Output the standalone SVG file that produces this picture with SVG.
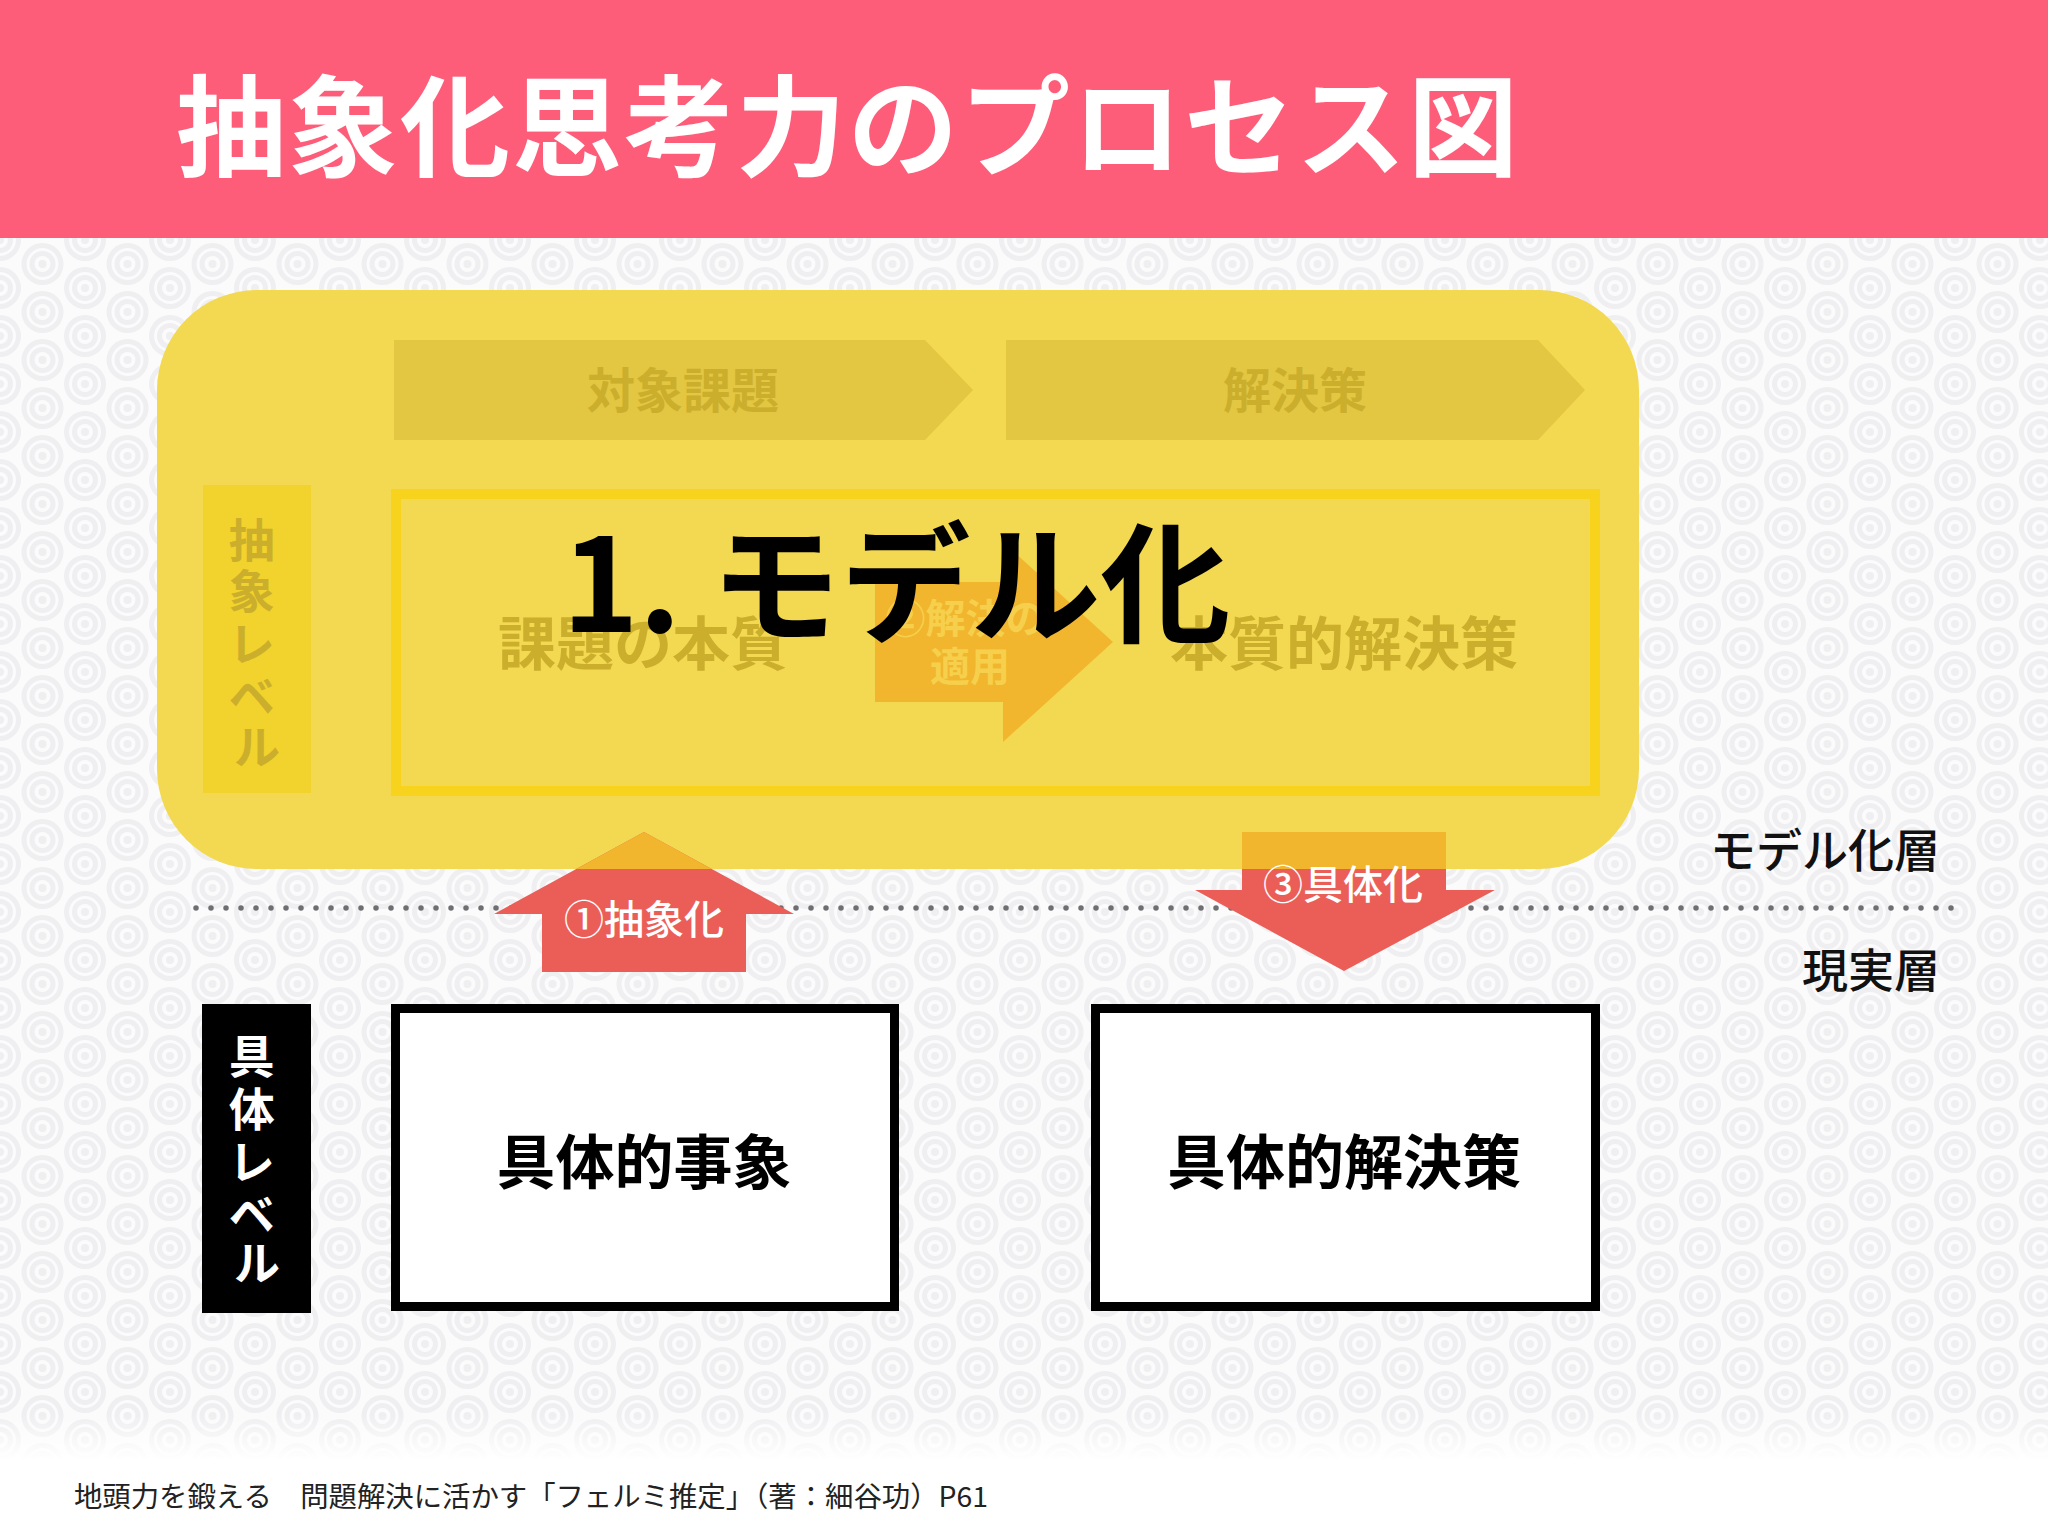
<svg xmlns="http://www.w3.org/2000/svg" width="2048" height="1536" viewBox="0 0 2048 1536">
<style>
.jp{font-family:"Noto Sans CJK JP","Noto Sans",sans-serif}
.b{font-weight:700}
.m{font-weight:500}
.faint{fill:#cbae2c}
.g{fill:#efeff1}
.w{fill:#fbfbfc}
</style>
<defs>
<g id="cc">
<circle r="21" class="g"/>
<circle r="16" class="w"/>
<circle r="13" class="g"/>
<circle r="8" class="w"/>
<circle r="4" class="g"/>
</g>
<pattern id="bgpat" width="85" height="48" patternUnits="userSpaceOnUse">
<rect width="85" height="48" class="w"/>
<use href="#cc" x="0" y="0"/>
<use href="#cc" x="85" y="0"/>
<use href="#cc" x="0" y="48"/>
<use href="#cc" x="85" y="48"/>
<use href="#cc" x="42.5" y="24"/>
</pattern>
<linearGradient id="fade" x1="0" y1="0" x2="0" y2="1">
<stop offset="0" stop-color="#ffffff" stop-opacity="0"/>
<stop offset="1" stop-color="#ffffff" stop-opacity="1"/>
</linearGradient>
<clipPath id="yclip">
<rect x="157" y="290" width="1482" height="579" rx="100" ry="100"/>
</clipPath>
<polygon id="upArrow" points="644,832 794,914 746,914 746,972 542,972 542,914 494,914"/>
<polygon id="downArrow" points="1242,832 1446,832 1446,890 1495,890 1344,971 1195,890 1242,890"/>
</defs>

<!-- background -->
<rect x="0" y="0" width="2048" height="1536" fill="url(#bgpat)"/>
<rect x="0" y="1415" width="2048" height="45" fill="url(#fade)"/>
<rect x="0" y="1460" width="2048" height="76" fill="#ffffff"/>

<!-- header -->
<g id="header">
<rect x="0" y="0" width="2048" height="238" fill="#fe5d7a"/>
<text x="176" y="168" class="jp b" font-size="110" letter-spacing="2" fill="#ffffff">抽象化思考力のプロセス図</text>
</g>

<!-- model layer -->
<g id="model-layer">
<rect x="157" y="290" width="1482" height="579" rx="100" ry="100" fill="#f3d951"/>
</g>

<g id="col-target">
<polygon points="394,340 925,340 973,390 925,440 394,440" fill="#e3c642"/>
<text x="683" y="408" class="jp b faint" font-size="48" text-anchor="middle">対象課題</text>
</g>
<g id="col-solution">
<polygon points="1006,340 1538,340 1585,390 1538,440 1006,440" fill="#e3c642"/>
<text x="1295" y="408" class="jp b faint" font-size="48" text-anchor="middle">解決策</text>
</g>

<g id="abstract-level">
<rect x="203" y="485" width="108" height="308" fill="#f2d22c"/>
<text class="jp b faint" font-size="46" text-anchor="middle">
<tspan x="257" y="557">抽</tspan>
<tspan x="257" y="608">象</tspan>
<tspan x="257" y="661">レ</tspan>
<tspan x="257" y="713">ベ</tspan>
<tspan x="257" y="764">ル</tspan>
</text>
</g>

<g id="model-box">
<rect x="396" y="494" width="1199" height="297" fill="#f3d951" stroke="#f7d31e" stroke-width="10"/>
</g>

<g id="essence">
<text x="643" y="665" class="jp b faint" font-size="58" text-anchor="middle">課題の本質</text>
</g>
<g id="essential-solution">
<text x="1344" y="665" class="jp b faint" font-size="58" text-anchor="middle">本質的解決策</text>
</g>

<g id="connectors">
<g id="apply">
<polygon points="875,582 1003,582 1003,542 1113,642 1003,742 1003,702 875,702" fill="#f1b62e"/>
<text class="jp b" font-size="40" fill="#f6d04c" text-anchor="middle">
<tspan x="970" y="633">②解決の</tspan>
<tspan x="970" y="681">適用</tspan>
</text>
</g>

<line x1="196" y1="908" x2="1952" y2="908" stroke="#6f6f72" stroke-width="5.5" stroke-linecap="round" stroke-dasharray="0 15"/>

<g id="abstraction">
<use href="#upArrow" fill="#eb5e58"/>
<use href="#upArrow" fill="#f1b62e" clip-path="url(#yclip)"/>
<text x="644" y="934" class="jp m" font-size="40" fill="#ffffff" text-anchor="middle">①抽象化</text>
</g>
<g id="concretization">
<use href="#downArrow" fill="#eb5e58"/>
<use href="#downArrow" fill="#f1b62e" clip-path="url(#yclip)"/>
<text x="1343" y="899" class="jp m" font-size="40" fill="#ffffff" text-anchor="middle">③具体化</text>
</g>
</g>

<g id="title-model">
<text x="562" y="632" class="jp b" font-size="130" fill="#000000">1. モデル化</text>
</g>

<g id="layer-labels">
<text x="1940" y="867" class="jp m" font-size="46" fill="#111111" text-anchor="end">モデル化層</text>
<text x="1940" y="987" class="jp m" font-size="46" fill="#111111" text-anchor="end">現実層</text>
</g>

<g id="concrete-level">
<rect x="202" y="1004" width="109" height="309" fill="#000000"/>
<text class="jp b" font-size="46" fill="#ffffff" text-anchor="middle">
<tspan x="257" y="1073">具</tspan>
<tspan x="257" y="1126">体</tspan>
<tspan x="257" y="1179">レ</tspan>
<tspan x="257" y="1231">ベ</tspan>
<tspan x="257" y="1280">ル</tspan>
</text>
</g>

<g id="concrete-event">
<rect x="395.5" y="1008.5" width="499" height="298" fill="#ffffff" stroke="#000000" stroke-width="9"/>
<text x="644" y="1184" class="jp b" font-size="59" fill="#000000" text-anchor="middle">具体的事象</text>
</g>
<g id="concrete-solution">
<rect x="1095.5" y="1008.5" width="500" height="298" fill="#ffffff" stroke="#000000" stroke-width="9"/>
<text x="1344" y="1184" class="jp b" font-size="59" fill="#000000" text-anchor="middle">具体的解決策</text>
</g>

<g id="footer">
<text x="74" y="1507" class="jp" font-size="28" fill="#222222" textLength="914" lengthAdjust="spacingAndGlyphs">地頭力を鍛える　問題解決に活かす「フェルミ推定」（著：細谷功）P61</text>
</g>
</svg>
